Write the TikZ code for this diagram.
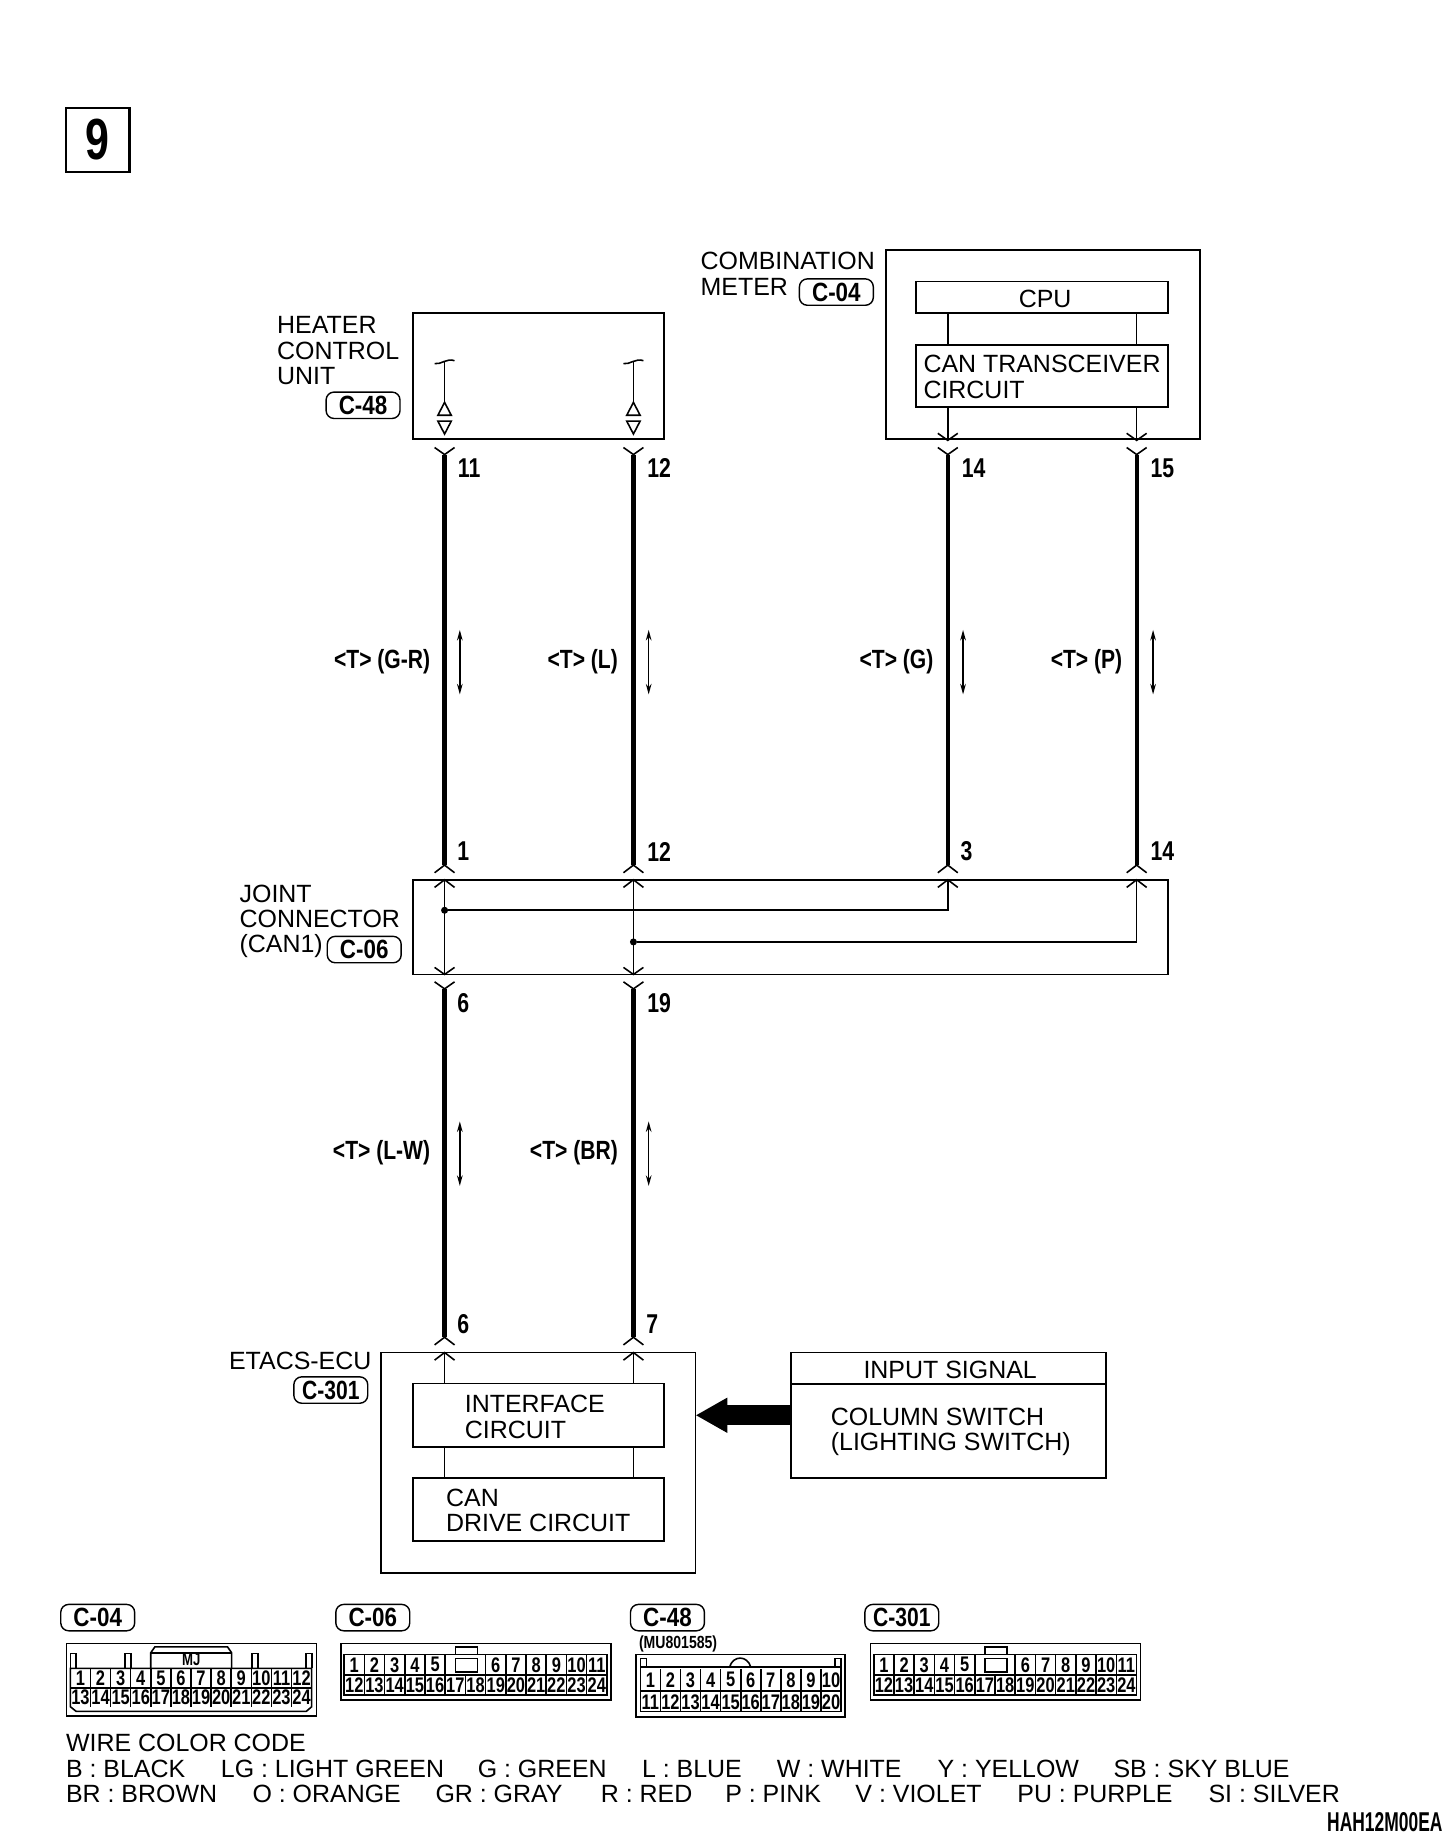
\documentclass[tikz,border=0pt]{standalone}
\usepackage{fontspec}
\setmainfont{Liberation Sans}
\usetikzlibrary{arrows.meta}
\def\unitpx{0.023465cm}
\newcommand{\condtxt}[2][.75]{\scalebox{#1}[1]{\bfseries #2}}
\tikzset{
    boxnode/.style={draw, line width=1pt, anchor=north west, inner sep=0pt, outer sep=0pt},
    txtnode/.style={anchor=west, align=left, inner sep=0pt, yshift=-.6pt, font=\fontsize{14.2}{14.4}\selectfont},
    tagnode/.style={draw, rounded corners=4.5pt, line width=.8pt, inner sep=0pt,
        minimum width=63*\unitpx, minimum height=22.5*\unitpx, font=\fontsize{15}{15}\selectfont},
    pinnum/.style={inner sep=0pt, font=\fontsize{15.5}{16}\selectfont},
    wirelabel/.style={anchor=east, inner sep=0pt, font=\fontsize{15}{15}\selectfont},
    cellnum/.style={inner sep=0pt, font=\fontsize{12}{12}\selectfont},
    thinwire/.style={line width=.9pt},
    heavywire/.style={line width=2.4pt},
    jdot/.style={circle, fill, inner sep=0pt, minimum size=4pt},
    forkup/.pic={\draw[thinwire] (-8.5,6.5) -- (0,0) -- (8.5,6.5);},
    forkdown/.pic={\draw[thinwire] (-8.5,-6) -- (0,0) -- (8.5,-6);}
}
\begin{document}
\begin{tikzpicture}[x=\unitpx, y=-\unitpx, >={Stealth[length=6pt,width=3.2pt]}]
    \useasboundingbox (0,0) rectangle (1241,1568.6);

    % Numero de figura
    \node[boxnode, line width=1.3pt, minimum width=54.5*\unitpx, minimum height=54.5*\unitpx,
        font=\fontsize{33}{33}\selectfont] (fignum) at (56,92) {\condtxt[.74]{9}};

    % Unidades
    \node[boxnode, minimum width=214*\unitpx, minimum height=107*\unitpx] (heater) at (352,267) {};
    \node[boxnode, minimum width=268*\unitpx, minimum height=161*\unitpx] (meter) at (755,213) {};
    \node[boxnode, minimum width=215*\unitpx, minimum height=27*\unitpx] (cpu) at (781,240) {};
    \node[boxnode, minimum width=215*\unitpx, minimum height=53*\unitpx] (transceiver) at (781,294) {};
    \node[boxnode, minimum width=644*\unitpx, minimum height=80.7*\unitpx] (joint) at (352,750) {};
    \node[boxnode, minimum width=268*\unitpx, minimum height=187.7*\unitpx] (etacs) at (325,1153) {};
    \node[boxnode, minimum width=214*\unitpx, minimum height=54*\unitpx] (interface) at (352,1179.5) {};
    \node[boxnode, minimum width=214*\unitpx, minimum height=53.5*\unitpx] (candrive) at (352,1260) {};
    \node[boxnode, minimum width=269*\unitpx, minimum height=107*\unitpx] (inputsig) at (674,1153) {};
    \draw[line width=1pt] (674,1180) coordinate (inputl) -- (inputl -| inputsig.east);

    % Textos de unidades
    \node[txtnode] (heatertxt) at (236,298) {HEATER\\CONTROL\\UNIT};
    \node[txtnode] (metertxt) at (597,232.5) {COMBINATION\\METER};
    \node[txtnode] (jointtxt) at (204,784.5) {JOINT\\CONNECTOR\\(CAN1)};
    \node[txtnode] (etacstxt) at (195,1159.5) {ETACS-ECU};
    \node[txtnode, anchor=center] (cputxt) at (891,254) {CPU};
    \node[txtnode] (transceivertxt) at (787,320.5) {CAN TRANSCEIVER\\CIRCUIT};
    \node[txtnode] (interfacetxt) at (396,1207) {INTERFACE\\CIRCUIT};
    \node[txtnode] (candrivetxt) at (380,1287) {CAN\\DRIVE CIRCUIT};
    \node[txtnode, anchor=center] (inputtxt) at (810,1167) {INPUT SIGNAL};
    \node[txtnode] (columntxt) at (708,1220) {COLUMN SWITCH\\(LIGHTING SWITCH)};

    % Etiquetas de conector
    \node[tagnode] (tagheater) at (309.5,345.5) {\condtxt[.85]{C-48}};
    \node[tagnode] (tagmeter) at (713,249) {\condtxt[.85]{C-04}};
    \node[tagnode] (tagjoint) at (310.5,809.5) {\condtxt[.85]{C-06}};
    \node[tagnode] (tagetacs) at (282,1185) {\condtxt[.8]{C-301}};

    % Cables
    \foreach \nm/\x in {a/379, b/540, c/808, d/969} {
        \coordinate (top\nm) at (\x,387.5);
        \coordinate (mid\nm) at (\x,737.5);
        \coordinate (jin\nm) at (\x,750);
        \draw[heavywire] (top\nm) -- (mid\nm);
        \pic at (top\nm) {forkdown};
        \pic at (mid\nm) {forkup};
        \pic at (jin\nm) {forkup};
    }
    \foreach \nm/\x in {a/379, b/540} {
        \coordinate (low\nm) at (\x,843);
        \coordinate (end\nm) at (\x,1140);
        \coordinate (jout\nm) at (\x,830.7);
        \coordinate (ein\nm) at (\x,1153);
        \draw[heavywire] (low\nm) -- (end\nm);
        \draw[thinwire] (jin\nm) -- (jout\nm);
        \draw[thinwire] (ein\nm) -- (ein\nm |- interface.north);
        \draw[thinwire] (ein\nm |- interface.south) -- (ein\nm |- candrive.north);
        \pic at (low\nm) {forkdown};
        \pic at (jout\nm) {forkdown};
        \pic at (end\nm) {forkup};
        \pic at (ein\nm) {forkup};
    }

    % Interior de la union
    \node[jdot] (dota) at (379,776) {};
    \node[jdot] (dotb) at (540,803) {};
    \draw[thinwire] (dota) -| (jinc);
    \draw[thinwire] (dotb) -| (jind);

    % Interior del medidor
    \foreach \nm in {c, d} {
        \coordinate (min\nm) at (top\nm |- 0,375.4);
        \draw[thinwire] (cpu.south -| top\nm) -- (transceiver.north -| top\nm);
        \draw[thinwire] (transceiver.south -| top\nm) -- (min\nm);
        \pic at (min\nm) {forkdown};
    }

    % Interior de la unidad de calefaccion
    \foreach \x in {379, 540} {
        \draw[thinwire] (\x-8.5,310) .. controls (\x-3,311) and (\x+2,305) .. (\x+8.5,307.5);
        \draw[thinwire] (\x,308.5) -- (\x,343);
        \draw[thinwire] (\x,343) -- (\x+5.7,354) -- (\x-5.7,354) -- cycle;
        \draw[thinwire] (\x-5.7,359) -- (\x+5.7,359) -- (\x,370) -- cycle;
    }

    % Flecha de entrada
    \draw[line width=17*\unitpx, -{Triangle[length=27*\unitpx, width=28*\unitpx]}]
        (inputsig.west) -- (etacs.east |- inputsig.west);

    % Numeros de pin
    \foreach \nm/\x/\y/\txt in {pa/400/399/11, pb/562/399/12, pc/830/399/14, pd/991/399/15,
        pe/395/726/1, pf/562/726/12, pg/824/726/3, ph/991/726/14,
        pi/395/855/6, pj/562/855/19, pk/395/1129/6, pl/556/1129/7} {
        \node[pinnum] (\nm) at (\x,\y) {\condtxt[.78]{\txt}};
    }

    % Colores de cable
    \foreach \nm/\x/\y/\txt in {la/367/564/G-R, lb/527/564/L, lc/796/564/G, ld/957/564/P,
        le/367/983/L-W, lf/527/983/BR} {
        \node[wirelabel] (\nm) at (\x,\y) {\condtxt[.8]{<T> (\txt)}};
    }

    % Sentido de la senal
    \foreach \nm/\x/\ya/\yb in {sa/392/537/592, sb/553/537/592, sc/821/537/592, sd/983/537/592,
        se/392/956/1011, sf/553/956/1011} {
        \coordinate (\nm a) at (\x,\ya);
        \coordinate (\nm b) at (\x,\yb);
        \draw[thinwire, <->] (\nm a) -- (\nm b);
    }

    % Conector C-04
    \node[tagnode] (tagfa) at (83.3,1379) {\condtxt[.85]{C-04}};
    \draw[line width=1pt] (56.6,1401) rectangle (269.8,1463);
    \draw[thinwire] (60,1422.3) -- (60,1455) -- (65,1459) -- (261,1459) -- (265.7,1455) -- (265.7,1422.3) -- cycle;
    \draw[thinwire] (60,1438.8) -- (265.7,1438.8);
    \foreach \i in {1,...,11} {
        \draw[thinwire] ({60+17.14*\i},1422.3) -- ({60+17.14*\i},1455);
    }
    \foreach \x in {60, 106.6, 215, 261} {
        \draw[thinwire] (\x,1422.3) -- (\x,1409.5) -- (\x+5,1409.5) -- (\x+5,1422.3);
    }
    \draw[thinwire] (128.5,1422.3) -- (128.5,1409) -- (132,1404) -- (194,1404) -- (197.5,1409) -- (197.5,1422.3);
    \draw[thinwire] (128.5,1409) -- (197.5,1409);
    \node[cellnum, font=\fontsize{10}{10}\selectfont] (mjtxt) at (163,1415) {\condtxt{MJ}};
    \foreach \n [evaluate=\n as \m using int(\n+12)] in {1,...,12} {
        \node[cellnum] (fa\n) at ({60+17.14*(\n-.5)},1430.4) {\condtxt[.78]{\n}};
        \node[cellnum] (fa\m) at ({60+17.14*(\n-.5)},1447.2) {\condtxt[.78]{\m}};
    }

    % Conectores C-06 y C-301
    \node[tagnode] (tagfb) at (317.8,1379) {\condtxt[.85]{C-06}};
    \node[tagnode] (tagfd) at (768.8,1379) {\condtxt[.8]{C-301}};
    \foreach \ox/\nm in {290.5/b, 742/d} {
        \begin{scope}[shift={(\ox,0)}]
            \draw[line width=1pt] (0,1401) rectangle (230.2,1449);
            \draw[thinwire] (2.9,1410.4) rectangle (226.9,1445);
            \draw[thinwire] (2.9,1428) -- (226.9,1428);
            \foreach \i in {1,...,12} {
                \draw[thinwire] ({2.9+17.23*\i},1428) -- ({2.9+17.23*\i},1445);
            }
            \foreach \i in {1,2,3,4,5,7,8,9,10,11,12} {
                \draw[thinwire] ({2.9+17.23*\i},1410.4) -- ({2.9+17.23*\i},1428);
            }
            \draw[thinwire] (97.9,1414) rectangle (116.5,1425.2);
            \draw[thinwire] (97.9,1410.4) -- (97.9,1404) -- (116.5,1404) -- (116.5,1410.4);
            \foreach \n in {1,...,5} {
                \node[cellnum] (f\nm\n) at ({2.9+17.23*(\n-.5)},1419.2) {\condtxt[.78]{\n}};
            }
            \foreach \n [evaluate=\n as \c using {\n+2}] in {6,...,11} {
                \node[cellnum] (f\nm\n) at ({2.9+17.23*(\c-.5)},1419.2) {\condtxt[.78]{\n}};
            }
            \foreach \n [evaluate=\n as \c using {\n-11}] in {12,...,24} {
                \node[cellnum] (f\nm\n) at ({2.9+17.23*(\c-.5)},1436.6) {\condtxt[.78]{\n}};
            }
        \end{scope}
    }

    % Conector C-48
    \node[tagnode] (tagfc) at (569,1379) {\condtxt[.85]{C-48}};
    \node[cellnum, font=\fontsize{10}{10}\selectfont, anchor=west] (parttxt) at (544.5,1401.5) {\condtxt[.8]{(MU801585)}};
    \draw[line width=1pt] (542,1410.4) rectangle (720.4,1464);
    \draw[line width=1.1pt] (545.9,1421) -- (717,1421);
    \draw[line width=1.1pt] (545.9,1441.5) -- (717,1441.5);
    \draw[thinwire] (545.9,1421) -- (545.9,1459) -- (717,1459) -- (717,1421);
    \foreach \i in {1,...,9} {
        \draw[thinwire] ({545.9+17.11*\i},1423) -- ({545.9+17.11*\i},1459);
    }
    \foreach \x in {546, 712} {
        \draw[thinwire] (\x,1421) -- (\x,1413.8) -- (\x+5,1413.8) -- (\x+5,1421);
    }
    \draw[thinwire] (622,1421) .. controls (625,1411) and (637,1411) .. (640,1421);
    \foreach \n [evaluate=\n as \m using int(\n+10)] in {1,...,10} {
        \node[cellnum] (fc\n) at ({545.9+17.11*(\n-.5)},1432) {\condtxt[.78]{\n}};
        \node[cellnum] (fc\m) at ({545.9+17.11*(\n-.5)},1451) {\condtxt[.78]{\m}};
    }

    % Codigo de colores
    \node[txtnode, anchor=base west] (codehead) at (56,1492.5) {WIRE COLOR CODE};
    \foreach \nm/\x/\txt in {ca/56/B : BLACK, cb/188/LG : LIGHT GREEN, cc/407/G : GREEN, cd/547/L : BLUE,
        ce/662/W : WHITE, cf/799/Y : YELLOW, cg/949/SB : SKY BLUE} {
        \node[txtnode, anchor=base west] (\nm) at (\x,1514) {\txt};
    }
    \foreach \nm/\x/\txt in {da/56/BR : BROWN, db/215/O : ORANGE, dc/371/GR : GRAY, dd/512/R : RED,
        de/618/P : PINK, df/729/V : VIOLET, dg/867/PU : PURPLE, dh/1030/SI : SILVER} {
        \node[txtnode, anchor=base west] (\nm) at (\x,1535.5) {\txt};
    }
    \node[pinnum, anchor=east] (figcode) at (1230,1553) {\condtxt[.64]{HAH12M00EA}};
\end{tikzpicture}
\end{document}
